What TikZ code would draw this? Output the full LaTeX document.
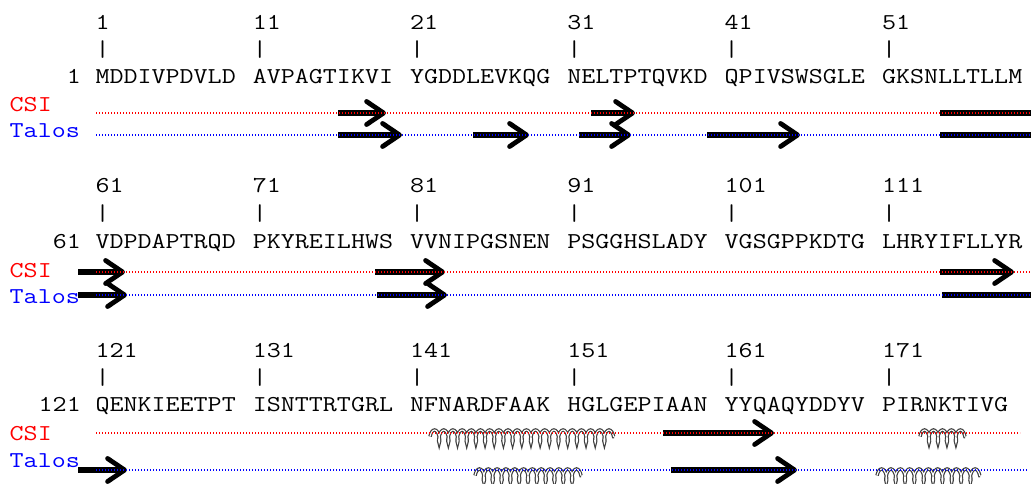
\documentclass[tikz,border=0pt]{standalone}
\usepackage{fontspec}
\newfontfamily\seqfont[FakeStretch=1.2]{Latin Modern Mono}
\usetikzlibrary{arrows.meta,decorations.pathmorphing}
\definecolor{csired}{RGB}{255,0,0}
\definecolor{talosblue}{RGB}{0,0,255}
\tikzset{
  seqtext/.style={anchor=base west,inner sep=0pt,font=\seqfont\fontsize{22.7}{27}\selectfont,text=black},
  numtext/.style={seqtext,anchor=base east},
  csilab/.style={seqtext,text=csired},
  taloslab/.style={seqtext,text=talosblue},
  csitrack/.style={draw=csired,line width=1.3pt,dash pattern=on 1.3pt off 1.7pt},
  talostrack/.style={draw=talosblue,line width=1.3pt,dash pattern=on 1.3pt off 1.7pt},
  strand/.style={line width=5.5pt,line cap=butt,-{Straight Barb[length=17pt,width=23pt,line width=4.8pt,round]}},
  sbar/.style={line width=5.5pt,line cap=butt},
  helix/.style={decorate,decoration={coil,aspect=0.35,segment length=#1,amplitude=6.5pt},
    draw=black!75,double=white,double distance=1.1pt,line width=1.2pt}
}

\begin{document}
\begin{tikzpicture}[x=1pt,y=-1pt]
  \useasboundingbox (0,0) rectangle (1031,484);
  \clip (0,0) rectangle (1031,484);
  % row 1
  \foreach \b/\s in {0/MDDIVPDVLD,1/AVPAGTIKVI,2/YGDDLEVKQG,3/NELTPTQVKD,4/QPIVSWSGLE,5/GKSNLLTLLM}{
    \pgfmathtruncatemacro\num{10*\b+1}
    \node[seqtext] (num1\b) at (95.3+157.3*\b,30) {\num};
    \node[seqtext] (tick1\b) at (95.3+157.3*\b,57) {|};
    \node[seqtext] (seq1\b) at (95.3+157.3*\b,84) {\s};
  }
  \node[numtext] (start1) at (81,84) {1};
  \node[csilab] (csi1) at (9.5,112) {CSI};
  \node[taloslab] (talos1) at (9.5,138) {Talos};
  \draw[strand] (338,113)--(386,113);
  \draw[strand] (591,113)--(635,113);
  \draw[sbar] (940,113)--(1040,113);
  \draw[strand] (338,135)--(402,135);
  \draw[strand] (473,135)--(529,135);
  \draw[strand] (579,135)--(631,135);
  \draw[strand] (707,135)--(800,135);
  \draw[sbar] (940,135)--(1040,135);
  \draw[csitrack] (96,113)--(1040,113);
  \draw[talostrack] (96,135)--(1040,135);
  % row 2
  \foreach \b/\s in {0/VDPDAPTRQD,1/PKYREILHWS,2/VVNIPGSNEN,3/PSGGHSLADY,4/VGSGPPKDTG,5/LHRYIFLLYR}{
    \pgfmathtruncatemacro\num{10*\b+61}
    \node[seqtext] (num2\b) at (95.3+157.3*\b,193) {\num};
    \node[seqtext] (tick2\b) at (95.3+157.3*\b,220) {|};
    \node[seqtext] (seq2\b) at (95.3+157.3*\b,248) {\s};
  }
  \node[numtext] (start2) at (81,248) {61};
  \node[csilab] (csi2) at (9.5,277) {CSI};
  \node[taloslab] (talos2) at (9.5,303) {Talos};
  \draw[strand] (78,272)--(125,272);
  \draw[strand] (375,272)--(445,272);
  \draw[strand] (940,272)--(1014,272);
  \draw[strand] (78,295)--(127,295);
  \draw[strand] (377,295)--(447,295);
  \draw[sbar] (942,295)--(1040,295);
  \draw[csitrack] (96,272)--(1040,272);
  \draw[talostrack] (96,295)--(1040,295);
  % row 3
  \foreach \b/\s in {0/QENKIEETPT,1/ISNTTRTGRL,2/NFNARDFAAK,3/HGLGEPIAAN,4/YYQAQYDDYV,5/PIRNKTIVG}{
    \pgfmathtruncatemacro\num{10*\b+121}
    \node[seqtext] (num3\b) at (95.3+157.3*\b,357) {\num};
    \node[seqtext] (tick3\b) at (95.3+157.3*\b,384) {|};
    \node[seqtext] (seq3\b) at (95.3+157.3*\b,411) {\s};
  }
  \node[numtext] (start3) at (81,411) {121};
  \node[csilab] (csi3) at (9.5,440) {CSI};
  \node[taloslab] (talos3) at (9.5,467) {Talos};
  % helices: segment length = length / turns
  \draw[helix=9.18pt] (430,436.5)--(614,436.5);
  \draw[strand] (663,433)--(774,433);
  \draw[helix=8.97pt] (920,436.5)--(965,436.5);
  \draw[strand] (78,470)--(127,470);
  \draw[helix=8.82pt] (475,475.5)--(581,475.5);
  \draw[strand] (671,470)--(797,470);
  \draw[helix=9.35pt] (877,475.5)--(980,475.5);
  \draw[csitrack] (96,433)--(1020,433);
  \draw[talostrack] (96,470)--(1028,470);
\end{tikzpicture}
\end{document}
